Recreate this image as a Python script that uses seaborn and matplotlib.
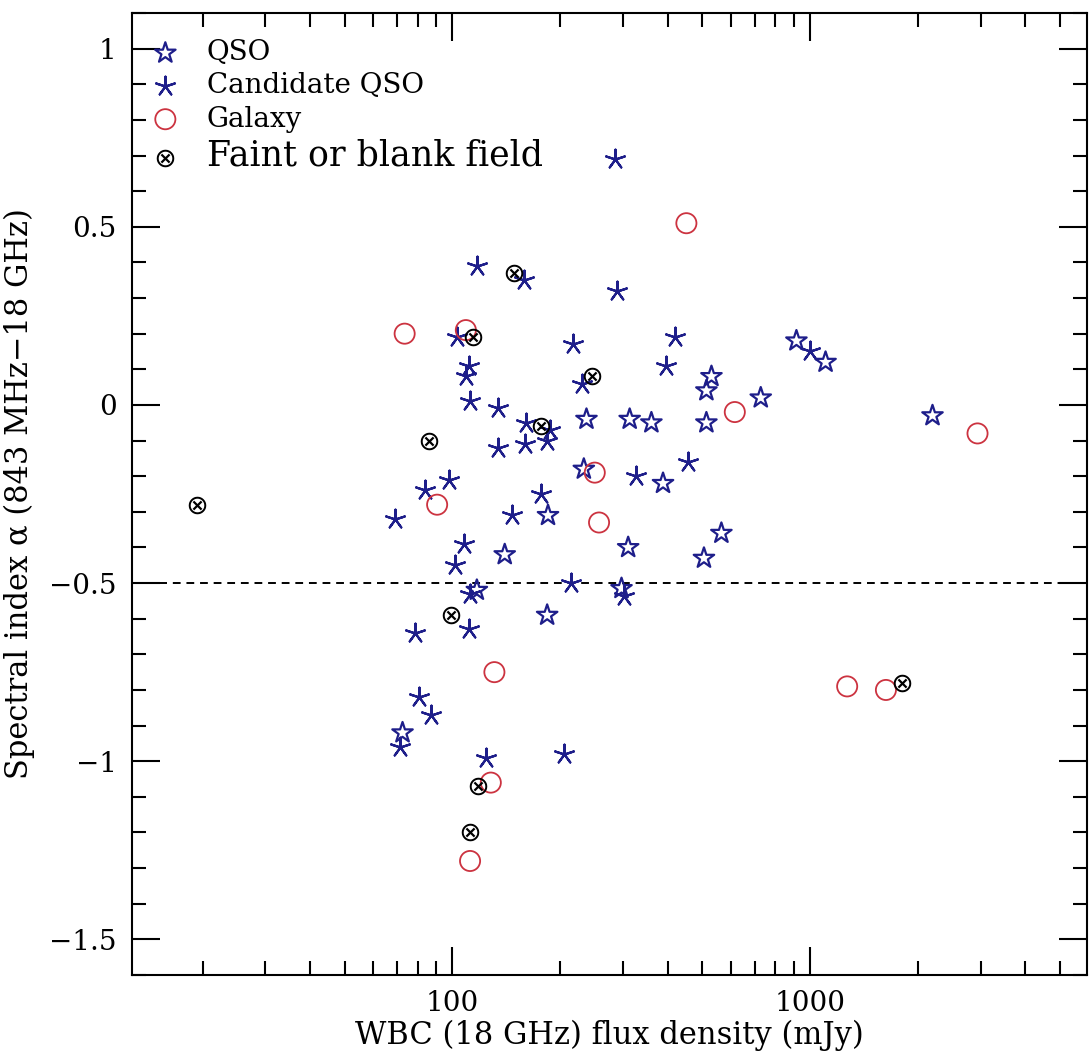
import numpy as np
import pandas as pd
import seaborn as sns
import matplotlib.pyplot as plt
from matplotlib.ticker import FixedLocator, FuncFormatter, NullFormatter, LogLocator

# WBC 18 GHz flux density (mJy) and spectral index
qso_flux = [530, 513, 728, 237, 313, 360, 513, 233, 388, 185, 565, 140, 310,
            117, 297, 184, 72.5, 916, 1105, 2200, 505]
qso_alpha = [0.08, 0.04, 0.02, -0.04, -0.04, -0.05, -0.05, -0.18, -0.22, -0.31,
             -0.36, -0.42, -0.40, -0.52, -0.515, -0.59, -0.92, 0.18, 0.12, -0.03, -0.43]

cand_flux = [285, 117, 158, 288, 103, 217, 419, 111, 109, 395, 230, 112, 134,
             161, 188, 134, 160, 184, 98, 327, 456, 84, 177, 69, 147, 108,
             101.5, 112, 214, 302, 111, 78.5, 80.5, 87, 71.5, 124.5, 205, 1000]
cand_alpha = [0.69, 0.39, 0.35, 0.32, 0.19, 0.17, 0.19, 0.11, 0.08, 0.11, 0.06,
              0.01, -0.01, -0.05, -0.07, -0.12, -0.11, -0.10, -0.21, -0.20, -0.16,
              -0.24, -0.25, -0.32, -0.31, -0.39, -0.45, -0.53, -0.50, -0.535,
              -0.63, -0.64, -0.82, -0.87, -0.96, -0.99, -0.98, 0.15]

gal_flux = [451, 73.5, 109, 616, 250, 90.6, 257, 131, 128, 112, 2940, 1270, 1630]
gal_alpha = [0.51, 0.20, 0.21, -0.02, -0.19, -0.28, -0.33, -0.75, -1.06, -1.28,
             -0.08, -0.79, -0.80]

faint_flux = [19.3, 86, 149, 114, 246, 177, 99, 118, 112, 1810]
faint_alpha = [-0.28, -0.10, 0.37, 0.19, 0.08, -0.06, -0.59, -1.07, -1.20, -0.78]

alpha_cut = -0.5

df = pd.concat([
    pd.DataFrame({"flux": qso_flux, "alpha": qso_alpha, "cls": "QSO"}),
    pd.DataFrame({"flux": cand_flux, "alpha": cand_alpha, "cls": "Candidate QSO"}),
    pd.DataFrame({"flux": gal_flux, "alpha": gal_alpha, "cls": "Galaxy"}),
    pd.DataFrame({"flux": faint_flux, "alpha": faint_alpha, "cls": "Faint or blank field"}),
], ignore_index=True)

sns.set_theme(style="ticks")
plt.rcParams["font.family"] = ["DejaVu Serif", "DejaVu Sans"]
plt.rcParams["axes.unicode_minus"] = True
for k in ("text.color", "axes.labelcolor", "xtick.color", "ytick.color", "axes.edgecolor"):
    plt.rcParams[k] = "black"

blue = "#1e1e8a"
red = "#cc3340"

fig = plt.figure(figsize=(10.89, 10.61), dpi=100)
ax = fig.add_axes([132 / 1089, 1 - 975 / 1061, (1087 - 132) / 1089, (975 - 13) / 1061])

d = df[df.cls == "QSO"]
sns.scatterplot(x=d.flux, y=d.alpha, ax=ax, marker="*", s=240, color=blue,
                facecolor="none", edgecolor=blue, linewidth=1.6, label="QSO")
d = df[df.cls == "Candidate QSO"]
sns.scatterplot(x=d.flux, y=d.alpha, ax=ax, marker=(5, 2, 0), s=200, color=blue,
                edgecolor=blue, linewidth=1.6, label="Candidate QSO")
d = df[df.cls == "Galaxy"]
sns.scatterplot(x=d.flux, y=d.alpha, ax=ax, marker="o", s=210, color=red,
                facecolor="none", edgecolor=red, linewidth=1.3, label="Galaxy")
d = df[df.cls == "Faint or blank field"]
sns.scatterplot(x=d.flux, y=d.alpha, ax=ax, marker=r"$\otimes$", s=160, color="black",
                linewidth=0, label="Faint or blank field")

ax.axhline(alpha_cut, color="black", lw=1.4, ls=(0, (4, 3)), zorder=0)

ax.set_xscale("log")
ax.set_xlim(12.7, 5950)
ax.set_ylim(-1.6, 1.1)

ax.xaxis.set_major_locator(FixedLocator([100, 1000]))
ax.xaxis.set_minor_locator(LogLocator(base=10, subs=np.arange(2, 10)))
ax.xaxis.set_major_formatter(FuncFormatter(lambda v, p: f"{v:g}"))
ax.xaxis.set_minor_formatter(NullFormatter())
ax.yaxis.set_major_locator(FixedLocator([-1.5, -1, -0.5, 0, 0.5, 1]))
ax.yaxis.set_minor_locator(FixedLocator(np.arange(-1.6, 1.11, 0.1)))
ax.yaxis.set_major_formatter(FuncFormatter(lambda v, p: f"{v:g}".replace("-", "\u2212")))

ax.tick_params(which="both", direction="in", top=True, right=True, width=1.5,
               labelsize=20)
ax.tick_params(which="major", length=20, pad=11)
ax.tick_params(which="minor", length=10)
for sp in ax.spines.values():
    sp.set_linewidth(1.5)

ax.set_xlabel("WBC (18 GHz) flux density (mJy)", fontsize=22, labelpad=2)
ax.set_ylabel("Spectral index \u03b1 (843 MHz\u221218 GHz)", fontsize=22, labelpad=10)

leg = ax.legend(loc="upper left", bbox_to_anchor=(0.0, 0.99), frameon=False,
                fontsize=20, handletextpad=0.9, labelspacing=0.22, borderaxespad=0.2,
                handlelength=1.2)
leg.get_texts()[3].set_fontsize(25)

fig.savefig("out.png", dpi=100)
